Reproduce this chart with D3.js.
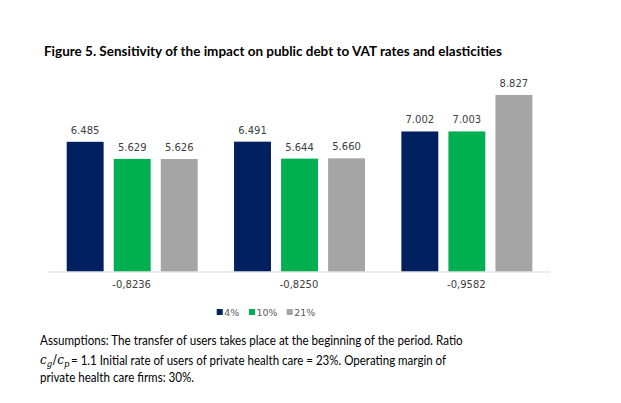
<!DOCTYPE html>
<html><head><meta charset="utf-8">
<script src="https://cdn.jsdelivr.net/npm/d3@7"></script>
<style>body{margin:0;background:#fff}svg{display:block}</style>
</head><body>
<svg id="c" width="621" height="403"></svg>
<script>
const categories = ["-0,8236", "-0,8250", "-0,9582"];
const seriesNames = ["4%", "10%", "21%"];
const s4 = [6.485, 6.491, 7.002];
const s10 = [5.629, 5.644, 7.003];
const s21 = [5.626, 5.660, 8.827];
const colors = ["#002060", "#00B050", "#A5A5A5"];
const seriesValues = [s4, s10, s21];

const svg = d3.select("#c");
const x0 = d3.scaleBand().domain(categories).range([48, 550]);
const x1 = d3.scaleBand().domain(seriesNames).range([18.7, 167.3 - 17.6]).paddingInner(0.215);
const y = d3.scaleLinear().domain([0, 10]).range([271.5, 71.5]);

svg.append("text").attr("x", 44).attr("y", 55.5).attr("font-family", "Lato, sans-serif")
  .attr("font-weight", "bold").attr("font-size", 14).attr("fill", "#000")
  .attr("textLength", 458).attr("lengthAdjust", "spacingAndGlyphs")
  .text("Figure 5. Sensitivity of the impact on public debt to VAT rates and elasticities");

const g = svg.append("g");
categories.forEach((c, ci) => {
  const gg = g.append("g").attr("transform", `translate(${x0(c)},0)`);
  seriesNames.forEach((s, si) => {
    const v = seriesValues[si][ci];
    gg.append("rect").attr("x", x1(s)).attr("y", y(v)).attr("width", x1.bandwidth())
      .attr("height", y(0) - y(v)).attr("fill", colors[si]);
    gg.append("text").attr("x", x1(s) + x1.bandwidth() / 2).attr("y", y(v) - 8)
      .attr("text-anchor", "middle").attr("font-family", "DejaVu Sans, Verdana, sans-serif")
      .attr("font-size", 10).attr("fill", "#404040").text(d3.format(".3f")(v));
  });
});

const axis = d3.axisBottom(x0).tickSize(0).tickPadding(9);
const ax = svg.append("g").attr("transform", `translate(0,${y(0)})`).call(axis);
ax.select(".domain").attr("stroke", "#d9d9d9").attr("stroke-width", 1);
ax.selectAll("text").attr("font-family", "DejaVu Sans, Verdana, sans-serif").attr("font-size", 10).attr("fill", "#404040");

const legX = [216.7, 249, 286.7];
seriesNames.forEach((s, i) => {
  svg.append("rect").attr("x", legX[i]).attr("y", 309).attr("width", 6).attr("height", 6).attr("fill", colors[i]);
  svg.append("text").attr("x", legX[i] + 7.5).attr("y", 315.5).attr("font-family", "DejaVu Sans, Verdana, sans-serif")
    .attr("font-size", 9.5).attr("fill", "#595959").text(s);
});

const fn = "Lato, sans-serif";
svg.append("text").attr("x", 40).attr("y", 344.5).attr("font-family", fn).attr("font-size", 14).attr("fill", "#000")
  .attr("textLength", 422.7).attr("lengthAdjust", "spacingAndGlyphs")
  .text("Assumptions: The transfer of users takes place at the beginning of the period. Ratio");
const mf = "DejaVu Serif, serif";
const m = svg.append("text").attr("x", 40).attr("y", 364).attr("font-family", mf).attr("font-size", 12).attr("fill", "#000");
m.append("tspan").attr("font-style", "italic").text("c");
m.append("tspan").attr("font-style", "italic").attr("font-size", 8.5).attr("dy", 3).text("g");
m.append("tspan").attr("dy", -3).attr("dx", 0.5).text("/");
m.append("tspan").attr("font-style", "italic").attr("dx", 0.5).text("c");
m.append("tspan").attr("font-style", "italic").attr("font-size", 8.5).attr("dy", 3).text("p");
svg.append("text").attr("x", 71).attr("y", 364.5).attr("font-family", fn).attr("font-size", 14).attr("fill", "#000")
  .attr("textLength", 375).attr("lengthAdjust", "spacingAndGlyphs")
  .text("= 1.1 Initial rate of users of private health care = 23%. Operating margin of");
svg.append("text").attr("x", 40).attr("y", 381.5).attr("font-family", fn).attr("font-size", 14).attr("fill", "#000")
  .attr("textLength", 154).attr("lengthAdjust", "spacingAndGlyphs")
  .text("private health care firms: 30%.");
</script>
</body></html>
